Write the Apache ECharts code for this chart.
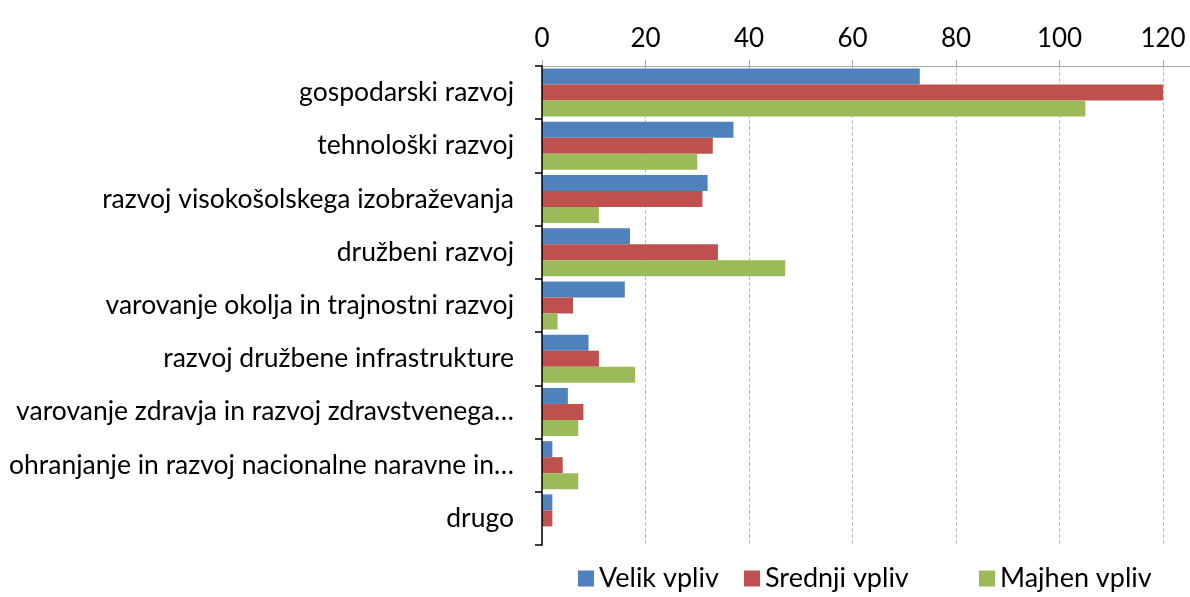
<!DOCTYPE html>
<html>
<head>
<meta charset="utf-8">
<script src="https://cdn.jsdelivr.net/npm/echarts@6/dist/echarts.min.js"></script>
<style>
  html, body { margin: 0; padding: 0; background: #fff; }
  #chart { width: 1190px; height: 597px; }
</style>
</head>
<body>
<div id="chart"></div>
<script>
const categories = [
    'gospodarski razvoj',
    'tehnološki razvoj',
    'razvoj visokošolskega izobraževanja',
    'družbeni razvoj',
    'varovanje okolja in trajnostni razvoj',
    'razvoj družbene infrastrukture',
    'varovanje zdravja in razvoj zdravstvenega…',
    'ohranjanje in razvoj nacionalne naravne in…',
    'drugo',
];
const seriesNames = ['Velik vpliv', 'Srednji vpliv', 'Majhen vpliv'];
const velik = [73, 37, 32, 17, 16, 9, 5, 2, 2];
const srednji = [120, 33, 31, 34, 6, 11, 8, 4, 2];
const majhen = [105, 30, 11, 47, 3, 18, 7, 7, 0];
const colors = ['#4f81bd', '#c0504d', '#9bbb59'];

const font = 'Lato, "Open Sans", sans-serif';
const chart = echarts.init(document.getElementById('chart'), null, { renderer: 'canvas' });

function bar(name, data, color) {
    return {
        name,
        type: 'bar',
        data,
        barWidth: 16,
        barGap: '0%',
        itemStyle: { color },
    };
}

// Excel-style legend: three separately placed entries
const legendLefts = [573, 739, 974];
const legends = seriesNames.map((name, i) => ({
    data: [name],
    left: legendLefts[i],
    bottom: 0,
    itemWidth: 16,
    itemHeight: 16,
    icon: 'rect',
    textStyle: { fontFamily: font, fontSize: 27, color: '#000' },
}));

chart.setOption({
    animation: false,
    backgroundColor: '#fff',
    textStyle: { fontFamily: font },
    grid: [
        { left: 542, right: 27, top: 66, bottom: 52, outerBoundsMode: 'none' },
        // only carries the top axis line out to the right edge
        { left: 542, right: 0, top: 66, bottom: 52, outerBoundsMode: 'none' },
    ],
    legend: legends,
    xAxis: [
        {
            type: 'value',
            gridIndex: 0,
            position: 'top',
            min: 0,
            max: 120,
            interval: 20,
            axisLine: { show: true, lineStyle: { color: '#a6a6a6', width: 1 } },
            axisTick: { show: true, length: 6, lineStyle: { color: '#a6a6a6' } },
            axisLabel: { fontSize: 26, color: '#000', margin: 14, fontFamily: font },
            splitLine: { show: true, lineStyle: { color: '#bfbfbf', type: [4, 2], width: 1 } },
        },
        {
            type: 'value',
            gridIndex: 1,
            position: 'top',
            min: 0,
            max: 1,
            axisLine: { show: true, lineStyle: { color: '#a6a6a6', width: 1 } },
            axisTick: { show: false },
            axisLabel: { show: false },
            splitLine: { show: false },
        },
    ],
    yAxis: [
        {
            type: 'category',
            gridIndex: 0,
            inverse: true,
            data: categories,
            axisLine: { show: true, lineStyle: { color: '#000', width: 1.5 } },
            axisTick: { show: true, length: 7, lineStyle: { color: '#000', width: 1.5 } },
            axisLabel: { fontSize: 26.5, color: '#000', margin: 28, fontFamily: font },
            splitLine: { show: false },
            z: 5,
        },
        {
            type: 'category',
            gridIndex: 1,
            show: false,
            data: categories,
        },
    ],
    series: [
        bar(seriesNames[0], velik, colors[0]),
        bar(seriesNames[1], srednji, colors[1]),
        bar(seriesNames[2], majhen, colors[2]),
    ],
});
</script>
</body>
</html>
